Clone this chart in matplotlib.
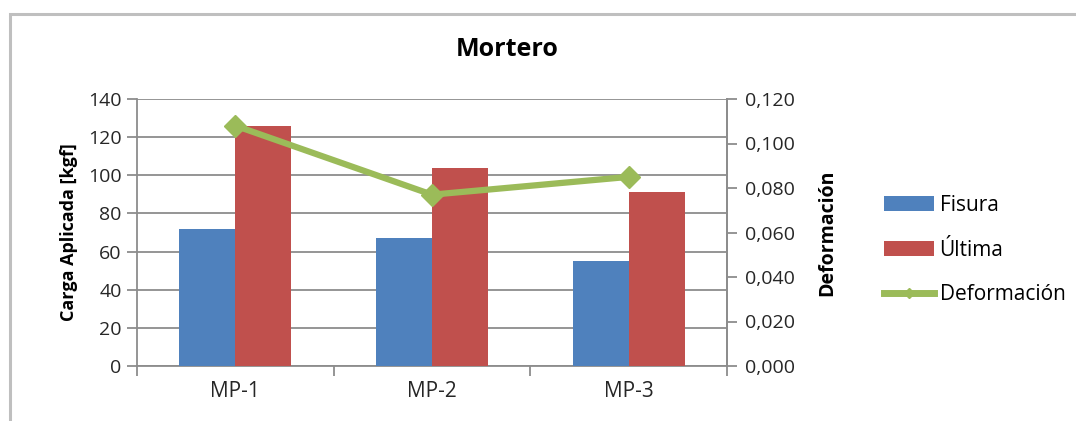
import matplotlib
matplotlib.use("Agg")
import matplotlib.pyplot as plt
import numpy as np
from matplotlib.patches import Rectangle
from matplotlib.lines import Line2D
from matplotlib.patches import Patch
from matplotlib.ticker import FuncFormatter

categories = ["MP-1", "MP-2", "MP-3"]
fisura = [72, 67, 55]
ultima = [126, 104, 91]
deformacion = [0.108, 0.077, 0.085]

plt.rcParams['font.family'] = ['Open Sans', 'DejaVu Sans']

BLUE = "#4F81BD"
RED = "#C0504D"
GREEN = "#9BBB59"
GRID = "#8C8C8C"
TXT = "#262626"

fig = plt.figure(figsize=(10.76, 4.21), dpi=100)
fig.patch.set_facecolor("white")

# outer chart border (partially visible)
fig.add_artist(Rectangle((10 / 1076, -0.1), 1.2, (421 - 14) / 421 + 0.1,
                         transform=fig.transFigure, fill=False,
                         edgecolor="#BFBFBF", linewidth=2.2))

ax = fig.add_axes([137 / 1076, 1 - 366 / 421, (727 - 137) / 1076, (366 - 99) / 421])
x = np.arange(len(categories))
w = 0.285
ax.bar(x - w / 2, fisura, w, color=BLUE, zorder=3)
ax.bar(x + w / 2, ultima, w, color=RED, zorder=3)
ax.set_xlim(-0.5, 2.5)
ax.set_ylim(0, 140)
ax.set_yticks(np.arange(0, 141, 20))
ax.yaxis.grid(True, color=GRID, linewidth=1.3, zorder=0)
ax.set_axisbelow(True)
ax.set_xticks(x)
ax.set_xticklabels(categories, fontsize=15, color=TXT)
ax.set_xticks([-0.5, 0.5, 1.5, 2.5], minor=True)
ax.tick_params(axis="x", which="major", length=0, pad=11)
ax.tick_params(axis="x", which="minor", length=7, color=GRID, width=1.3, direction="out")
ax.tick_params(axis="y", length=7, color=GRID, width=1.3, labelsize=14,
               labelcolor=TXT, pad=4)
ax.spines["top"].set_visible(False)
for s in ["left", "bottom", "right"]:
    ax.spines[s].set_color(GRID)
    ax.spines[s].set_linewidth(1.3)
ax.set_ylabel("Carga Aplicada [kgf]", fontsize=13, fontweight="bold", labelpad=7)

ax2 = ax.twinx()
ax2.plot(x, deformacion, color=GREEN, linewidth=4.5, marker="D", markersize=11,
         zorder=5)
ax2.set_ylim(0, 0.12)
ax2.set_yticks(np.arange(0, 0.1201, 0.02))
ax2.yaxis.set_major_formatter(FuncFormatter(lambda v, p: f"{v:.3f}".replace(".", ",")))
ax2.tick_params(axis="y", length=7, color=GRID, width=1.3, labelsize=14,
                labelcolor=TXT, pad=6)
for s in ["top", "left", "bottom"]:
    ax2.spines[s].set_visible(False)
ax2.spines["right"].set_color(GRID)
ax2.spines["right"].set_linewidth(1.3)
ax2.set_ylabel("Deformación", fontsize=14, fontweight="bold", labelpad=16)

fig.text(507 / 1076, 1 - 50 / 421, "Mortero", fontsize=18, fontweight="bold",
         ha="center", va="center")

handles = [Patch(facecolor=BLUE), Patch(facecolor=RED),
           Line2D([0], [0], color=GREEN, linewidth=5, marker="D", markersize=5)]
fig.legend(handles, ["Fisura", "Última", "Deformación"], loc="center left",
           bbox_to_anchor=(876 / 1076, 1 - 250 / 421), frameon=False,
           fontsize=15, handlelength=2.4, handleheight=0.7, handletextpad=0.25,
           labelspacing=1.15, borderaxespad=0)

fig.savefig("out.png", dpi=100)
